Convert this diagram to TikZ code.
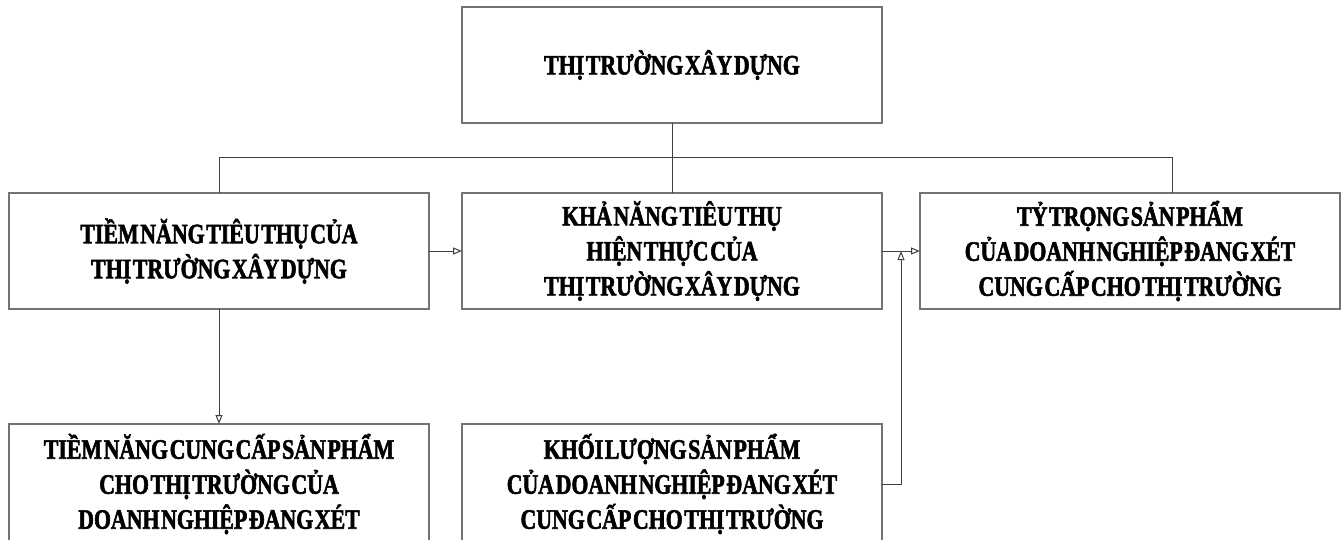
\documentclass[tikz,border=0pt]{standalone}
\usepackage{fontspec}
\setmainfont{Liberation Serif}[FakeStretch=0.78,WordSpace=0.3,FakeBold=2]
\usepackage{tikz}
\usetikzlibrary{arrows.meta,calc,positioning}
\newdimen\hdim
\newdimen\wdim
\hdim=116pt
\wdim=420pt
\tikzstyle{block}=[
  draw=black!55,
  font={\fontsize{28}{35}\selectfont\bfseries},
  inner sep=0pt,
  minimum height=\hdim,
  minimum width=\wdim,
  outer sep=0pt,
  rectangle,
  align=center,
  line width=1.2pt,
]
\tikzstyle{link}=[
  color=black!75,
  line width=1pt,
]
\tikzset{
  >={Triangle[open,length=9pt,width=7pt]},
}
\begin{document}
\begin{tikzpicture}
      \useasboundingbox (0,0) rectangle (1341pt,-540pt);
      \clip (0,0) rectangle (1341pt,-540pt);
      \node (actual) [block] at (672pt,-251pt) {KHẢ NĂNG TIÊU THỤ\\HIỆN THỰC CỦA\\THỊ TRƯỜNG XÂY DỰNG};
      \node (market) [block, above=70pt of actual] {THỊ TRƯỜNG XÂY DỰNG};
      \node (potential) [block, left=33pt of actual] {TIỀM NĂNG TIÊU THỤ CỦA\\THỊ TRƯỜNG XÂY DỰNG};
      \node (share) [block, right=38pt of actual] {TỶ TRỌNG SẢN PHẨM\\CỦA DOANH NGHIỆP ĐANG XÉT\\CUNG CẤP CHO THỊ TRƯỜNG};
      \node (supply) [block, minimum height=120pt, below=115pt of potential.south, anchor=north] {TIỀM NĂNG CUNG CẤP SẢN PHẨM\\CHO THỊ TRƯỜNG CỦA\\DOANH NGHIỆP ĐANG XÉT};
      \node (volume) [block, minimum height=120pt, below=115pt of actual.south, anchor=north] {KHỐI LƯỢNG SẢN PHẨM\\CỦA DOANH NGHIỆP ĐANG XÉT\\CUNG CẤP CHO THỊ TRƯỜNG};
      %%
      \coordinate [below=35pt of market] (bus);
      \coordinate (sharetop) at ($(share.north)+(42pt,0)$);
      \coordinate (join) at ($(actual.east)!.5!(share.west)$);
      %%
      \draw [link] (market) -- (actual);
      \draw [link] (potential.north) -- (potential.north|-bus)
      -- (sharetop|-bus) -- (sharetop);
      \draw [->, link] (potential) -- (actual);
      \draw [->, link] (actual) -- (share);
      \draw [->, link] (potential) -- (supply);
      \draw [->, link] (volume.east) -| (join);
    \end{tikzpicture}
\end{document}
